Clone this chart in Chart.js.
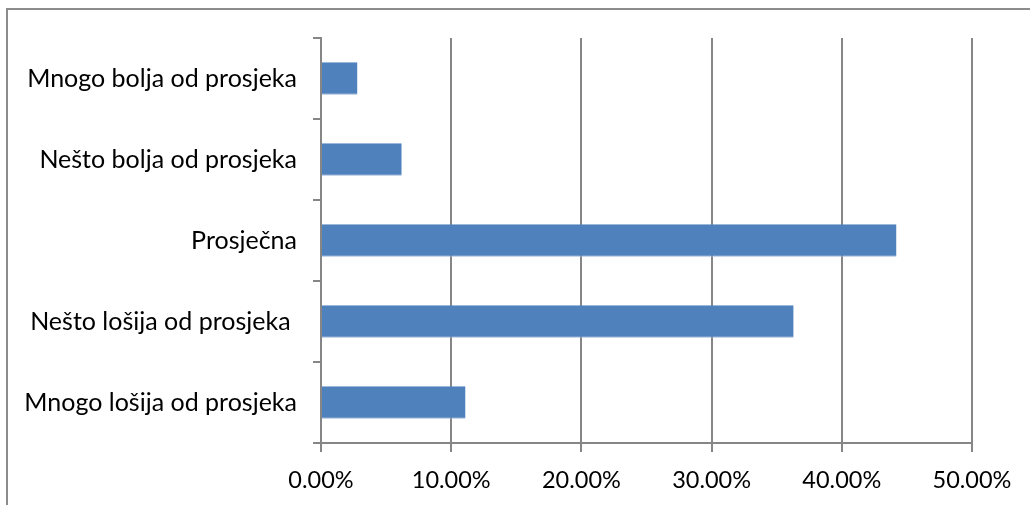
<!DOCTYPE html>
<html>
<head>
<meta charset="utf-8">
<script src="https://cdn.jsdelivr.net/npm/chart.js@4/dist/chart.umd.min.js"></script>
<style>
html,body{margin:0;padding:0;background:#fff;}
#wrap{position:relative;width:1030px;height:505px;}
</style>
</head>
<body>
<div id="wrap"><canvas id="c" width="1030" height="505"></canvas></div>
<script>
const categories = ["Mnogo bolja od prosjeka", "Nešto bolja od prosjeka", "Prosječna", "Nešto lošija od prosjeka ", "Mnogo lošija od prosjeka"];
const values = [2.8, 6.2, 44.2, 36.3, 11.1];
const xTicks = [0, 10, 20, 30, 40, 50];

const gridColor = '#868686';
const frame = {
  id: 'frame',
  beforeDraw(chart) {
    const ctx = chart.ctx;
    ctx.save();
    ctx.strokeStyle = '#8c8c8c';
    ctx.lineWidth = 2;
    ctx.beginPath();
    ctx.moveTo(7, 505);
    ctx.lineTo(7, 9);
    ctx.lineTo(1030, 9);
    ctx.stroke();
    ctx.restore();
  }
};

new Chart(document.getElementById('c'), {
  type: 'bar',
  data: {
    labels: categories,
    datasets: [{
      data: values,
      backgroundColor: '#4F81BD',
      borderColor: '#9AB5DA',
      borderWidth: {top: 0, left: 0, right: 0, bottom: 1},
      borderSkipped: false,
      categoryPercentage: 0.4,
      barPercentage: 1.0
    }]
  },
  options: {
    indexAxis: 'y',
    responsive: false,
    animation: false,
    devicePixelRatio: 1,
    layout: {padding: {top: 38, right: 58, left: 0, bottom: 0}},
    plugins: {legend: {display: false}, tooltip: {enabled: false}},
    scales: {
      x: {
        min: 0, max: 50,
        afterBuildTicks(scale) { scale.ticks = xTicks.map(v => ({value: v})); },
        afterFit(scale) { scale.height = 62; },
        ticks: {
          color: '#000',
          font: {family: 'Lato', size: 23.5},
          padding: 14,
          maxRotation: 0,
          callback: v => v.toFixed(2) + '%'
        },
        grid: {color: gridColor, lineWidth: 2, tickLength: 9, drawOnChartArea: true},
        border: {color: gridColor, width: 2}
      },
      y: {
        afterFit(scale) { scale.width = 321; },
        ticks: {
          color: '#000',
          font: {family: 'Lato', size: 25},
          padding: 16
        },
        grid: {offset: true, color: gridColor, lineWidth: 2, tickLength: 8, drawOnChartArea: false},
        border: {color: gridColor, width: 2}
      }
    }
  },
  plugins: [frame]
});
</script>
</body>
</html>
